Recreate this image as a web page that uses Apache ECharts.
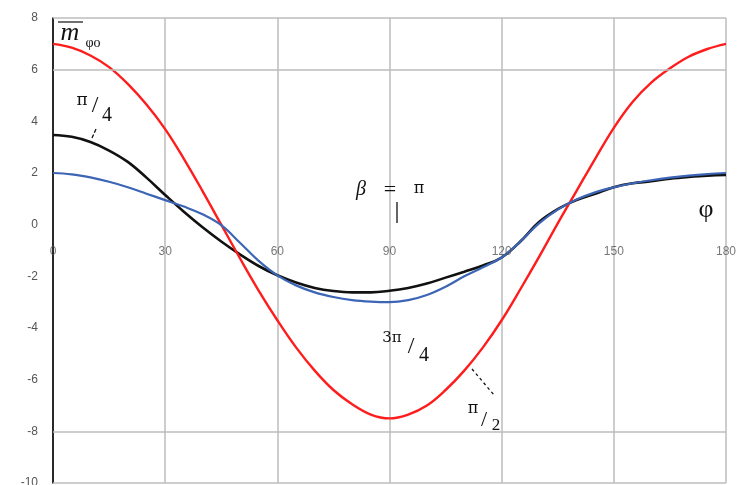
<!DOCTYPE html>
<html>
<head>
<meta charset="utf-8">
<script src="https://cdn.jsdelivr.net/npm/echarts@6/dist/echarts.min.js"></script>
<style>
  html, body { margin: 0; padding: 0; background: #fff; }
  #chart { width: 741px; height: 485px; }
</style>
</head>
<body>
<div id="chart"></div>
<script>
  // angle phi, degrees
  var phi = [0, 5, 10, 15, 20, 25, 30, 35, 40, 45, 50, 55, 60, 65, 70, 75, 80, 85, 90,
    95, 100, 105, 110, 115, 120, 125, 130, 135, 140, 145, 150, 155, 160, 165, 170, 175, 180];
  // beta = pi/2
  var redVals = [7.0, 6.85, 6.55, 6.1, 5.45, 4.65, 3.7, 2.55, 1.3, 0.0, -1.3, -2.55, -3.7,
    -4.75, -5.65, -6.4, -6.95, -7.35, -7.5, -7.35, -7.0, -6.4, -5.65, -4.75, -3.7, -2.5,
    -1.25, 0.05, 1.3, 2.55, 3.75, 4.75, 5.5, 6.05, 6.5, 6.8, 7.0];
  // beta = pi/4 (and 3pi/4)
  var blackVals = [3.47, 3.4, 3.2, 2.87, 2.43, 1.82, 1.15, 0.5, -0.1, -0.65, -1.15, -1.6,
    -1.96, -2.24, -2.45, -2.57, -2.62, -2.62, -2.56, -2.45, -2.28, -2.05, -1.82, -1.58, -1.27,
    -0.65, 0.1, 0.6, 0.95, 1.2, 1.45, 1.6, 1.68, 1.78, 1.85, 1.9, 1.92];
  // beta = pi
  var blueVals = [2.0, 1.95, 1.83, 1.66, 1.45, 1.2, 0.95, 0.7, 0.4, -0.02, -0.7, -1.4, -1.96,
    -2.35, -2.62, -2.8, -2.92, -2.98, -3.0, -2.92, -2.72, -2.4, -2.0, -1.65, -1.27, -0.65,
    0.05, 0.58, 0.97, 1.25, 1.45, 1.6, 1.72, 1.82, 1.9, 1.96, 2.0];
  // x tick labels, written just under the zero line
  var xTicks = [0, 30, 60, 90, 120, 150, 180];
  // horizontal grid lines that are drawn in the figure
  var hLines = [8, 6, -8, -10];

  function pairs(vals) {
    return phi.map(function (p, i) { return [p, vals[i]]; });
  }

  var serif = 'Liberation Serif';
  function txt(s, x, y, size, italic, font) {
    return {
      type: 'text', x: x, y: y, z: 100,
      style: {
        text: s, fontSize: size, fontFamily: font || serif, fontStyle: italic ? 'italic' : 'normal',
        fill: '#111', align: 'center', verticalAlign: 'middle'
      }
    };
  }
  function seg(pts, dash) {
    return {
      type: 'polyline', z: 100,
      shape: { points: pts },
      style: { stroke: '#111', lineWidth: 1.3, lineDash: dash || null, fill: null }
    };
  }

  var chart = echarts.init(document.getElementById('chart'));
  chart.setOption({
    animation: false,
    grid: { left: 53, right: 15, top: 18, bottom: 2, containLabel: false, outerBoundsMode: 'none' },
    xAxis: {
      type: 'value', min: 0, max: 180, interval: 30,
      axisLine: { show: false },
      axisTick: { show: false },
      axisLabel: { show: false },
      splitLine: { show: true, lineStyle: { color: '#bdbdbd', width: 1.5 } }
    },
    yAxis: {
      type: 'value', min: -10, max: 8, interval: 2,
      axisLine: { show: true, onZero: false, lineStyle: { color: '#000', width: 1.6 } },
      axisTick: { show: false },
      axisLabel: { color: '#555', fontSize: 12, margin: 15, fontFamily: 'Liberation Sans' },
      splitLine: { show: false }
    },
    series: [
      {
        type: 'line', data: [], z: 1, silent: true,
        markLine: {
          silent: true, symbol: 'none', label: { show: false },
          lineStyle: { color: '#bdbdbd', width: 1.5, type: 'solid' },
          data: hLines.map(function (v) { return { yAxis: v }; })
        }
      },
      {
        // tick labels of phi along the zero line
        type: 'scatter', silent: true, symbolSize: 0, z: 6,
        data: xTicks.map(function (t) { return [t, 0]; }),
        label: {
          show: true, position: 'bottom', distance: 21,
          color: '#555', fontSize: 12, fontFamily: 'Liberation Sans',
          formatter: function (p) { return String(p.value[0]); }
        }
      },
      {
        type: 'line', data: pairs(blackVals), smooth: 0.4, showSymbol: false, z: 3,
        lineStyle: { color: '#111', width: 2.6 }
      },
      {
        type: 'line', data: pairs(redVals), smooth: 0.4, showSymbol: false, z: 4,
        lineStyle: { color: '#ff1c1c', width: 2.4 }
      },
      {
        type: 'line', data: pairs(blueVals), smooth: 0.4, showSymbol: false, z: 5,
        lineStyle: { color: '#3d65b5', width: 2.2 }
      }
    ],
    graphic: [
      // m-bar phi o
      txt('m', 70, 33, 26, true),
      { type: 'line', z: 100, shape: { x1: 58, y1: 22, x2: 83, y2: 22 }, style: { stroke: '#111', lineWidth: 1.2 } },
      txt('φo', 93, 43, 14, false),
      // pi/4
      txt('π', 82, 101, 17, false, 'DejaVu Serif'),
      txt('/', 95, 106, 24, false),
      txt('4', 107, 116, 20, false),
      seg([[96, 129], [92, 138]], [4, 2]),
      // beta = pi
      txt('β', 361, 190, 20, true),
      txt('=', 390, 190, 22, false),
      txt('π', 419, 189, 16, false, 'DejaVu Serif'),
      seg([[397, 202], [397, 223]]),
      // phi axis name
      txt('φ', 706, 210, 26, false),
      // 3pi/4
      txt('3π', 392, 338, 15, false, 'DejaVu Serif'),
      txt('/', 411, 347, 24, false),
      txt('4', 424, 356, 20, false),
      // pi/2
      txt('π', 473, 409, 16, false, 'DejaVu Serif'),
      txt('/', 484, 420, 22, false),
      txt('2', 496, 426, 17, false),
      seg([[472, 369], [494, 395]], [3, 3])
    ]
  });
</script>
</body>
</html>
